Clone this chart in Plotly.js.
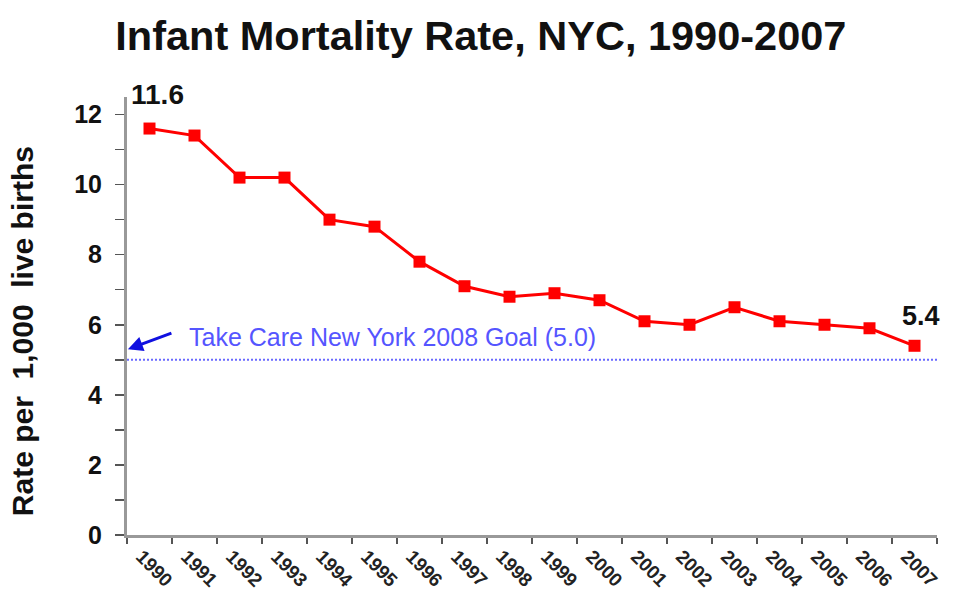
<!DOCTYPE html>
<html><head><meta charset="utf-8">
<script src="https://cdn.plot.ly/plotly-3.0.1.min.js"></script>
<style>html,body{margin:0;padding:0;background:#fff}#chart{width:956px;height:591px}</style>
</head><body><div id="chart"></div>
<script>
const years = ["1990","1991","1992","1993","1994","1995","1996","1997","1998","1999","2000","2001","2002","2003","2004","2005","2006","2007"];
const rates = [11.6,11.4,10.2,10.2,9.0,8.8,7.8,7.1,6.8,6.9,6.7,6.1,6.0,6.5,6.1,6.0,5.9,5.4];
const yTicks = [0,2,4,6,8,10,12];
const goal = 5.0;
const goalLabel = "Take Care New York 2008 Goal (5.0)";

const xi = years.map((_, i) => i);
const font = "Liberation Sans, Arial, sans-serif";

const traces = [
  {x:[-0.5, years.length-0.5], y:[goal, goal], mode:'lines', line:{color:'#6a6aff', width:2, dash:'2px,2px'}, hoverinfo:'skip'},
  {x:xi, y:rates, mode:'lines+markers', line:{color:'#ff0000', width:3}, marker:{symbol:'square', size:12, color:'#ff0000'}}
];

const layout = {
  width:956, height:591,
  margin:{l:127, r:19, t:97, b:56},
  showlegend:false,
  paper_bgcolor:'#fff', plot_bgcolor:'#fff',
  title:{text:'<b>Infant Mortality Rate, NYC, 1990-2007</b>', font:{family:font, size:41.5, color:'#111'}, x:0.503, xref:'container', y:0.94, yref:'container', yanchor:'middle'},
  xaxis:{
    range:[-0.5, years.length-0.5], tickmode:'array', tickvals:xi.map(i=>i-0.18), ticktext:years.map(y=>'<b>'+y+'</b>'),
    ticks:'', tickangle:45, tickfont:{family:font, size:19, color:'#222'},
    showgrid:false, zeroline:false, showline:true, linecolor:'#999', linewidth:3,
    minor:{tickmode:'linear', tick0:-0.5, dtick:1, ticks:'outside', ticklen:6, tickcolor:'#555', tickwidth:1.5},
    fixedrange:true
  },
  yaxis:{
    range:[0, 12.5], tickmode:'array', tickvals:yTicks, ticktext:yTicks.map(v=>'<b>'+v+'</b>'),
    ticks:'outside', ticklen:9, tickcolor:'#555', tickwidth:1.5,
    tickfont:{family:font, size:25, color:'#111'}, ticklabelstandoff:8,
    minor:{tickmode:'linear', tick0:1, dtick:2, ticks:'outside', ticklen:9, tickcolor:'#555', tickwidth:1.5},
    showgrid:false, zeroline:false, showline:true, linecolor:'#999', linewidth:3, fixedrange:true
  },
  annotations:[
    {xref:'paper', yref:'paper', x:-0.128, xanchor:'center', y:0.466, yanchor:'middle', text:'<b>Rate per  1,000  live births</b>', textangle:-90, showarrow:false, font:{family:font, size:30, color:'#111'}},
    {x:0, y:rates[0], text:'<b>11.6</b>', showarrow:false, yshift:34, xshift:8, font:{family:font, size:28, color:'#111'}},
    {x:years.length-1, y:rates[rates.length-1], text:'<b>5.4</b>', showarrow:false, yshift:30, xshift:6, font:{family:font, size:27, color:'#111'}},
    {x:0.83, y:5.64, xanchor:'left', text:goalLabel, showarrow:false, font:{family:font, size:25, color:'#5555ff'}},
    {x:-0.48, y:5.3, ax:0.52, ay:5.78, axref:'x', ayref:'y', text:'', showarrow:true, arrowhead:2, arrowsize:1, arrowwidth:3, arrowcolor:'#1010e0'}
  ]
};
Plotly.newPlot('chart', traces, layout, {displayModeBar:false, staticPlot:true});
</script></body></html>
